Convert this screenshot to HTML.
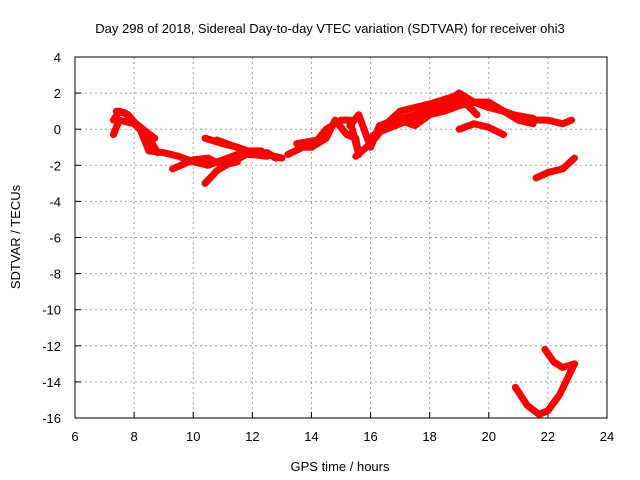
<!DOCTYPE html>
<html><head><meta charset="utf-8"><style>
body{margin:0;background:#fff}
svg{display:block;font-family:"Liberation Sans",sans-serif}
</style></head><body>
<svg id="chart" width="640" height="480">
<text x="330" y="33" text-anchor="middle" font-size="13">Day 298 of 2018, Sidereal Day-to-day VTEC variation (SDTVAR) for receiver ohi3</text>
<text x="340" y="471" text-anchor="middle" font-size="13">GPS time / hours</text>
<text transform="translate(20,237) rotate(-90)" text-anchor="middle" font-size="13">SDTVAR / TECUs</text>
<g id="grid"></g><g id="ticks"></g><g id="series"></g>
<rect x="75" y="57" width="532" height="361" fill="none" stroke="#000"/>
</svg>
<script>
const xTicks=[6,8,10,12,14,16,18,20,22,24];
const yTicks=[4,2,0,-2,-4,-6,-8,-10,-12,-14,-16];
const traceA=[[7.3,0.5],[7.5,1.0],[7.8,0.8],[8.2,0],[8.5,-1.2],[9.0,-1.3],[9.5,-1.5],[10,-1.8],[10.5,-2],[11,-1.7],[11.5,-1.4],[12,-1.4],[12.5,-1.5]];
const traceB=[[7.3,-0.3],[7.5,0.5],[8,0.3],[8.5,-0.5],[8.8,-1.3]];
const traceB2=[[7.4,1.0],[7.7,0.9],[8,0.4],[8.3,0],[8.7,-0.5]];
const traceC=[[9.3,-2.2],[10,-1.7],[10.5,-1.6],[11,-2.0],[11.5,-1.8]];
const traceD=[[10.4,-3.0],[10.8,-2.3],[11.2,-1.9],[11.8,-1.4],[12.5,-1.3],[12.8,-1.6]];
const traceE=[[10.4,-0.5],[11,-0.8],[11.5,-1.0],[12,-1.3],[12.5,-1.4],[13,-1.6]];
const traceE2=[[10.8,-0.6],[11.3,-0.9],[11.8,-1.2],[12.3,-1.2]];
const traceF=[[13.2,-1.4],[13.7,-1.0],[14,-1.0],[14.5,-0.5],[14.8,0.5],[15.2,-0.3],[15.5,-0.5],[15.6,-1.4]];
const traceG=[[13.5,-0.8],[14.2,-0.6],[14.5,0],[15,0.5],[15.3,0.5],[15.6,-1.4]];
const traceH=[[15.3,0.2],[15.6,0.8],[16,-1],[16.3,0.2],[17,0.6],[17.5,0.8],[18,1.3],[18.5,1.5],[19,2],[19.5,1.5],[20,1.2],[20.5,1.0],[21,0.7],[21.5,0.5],[22,0.5],[22.5,0.3],[22.8,0.5]];
const traceI=[[15.5,-1.5],[16,-0.8],[16.5,0.2],[17,0.5],[17.5,0.2],[18,0.8],[18.5,1.0],[19,1.3],[19.5,1.5],[20,1.5],[20.5,1.0],[21,0.5],[21.5,0.3]];
const traceJ=[[16,-0.5],[17,1.0],[18,1.4],[19,1.9],[19.3,1.3],[19.6,0.8]];
const traceJ2=[[16.2,-0.2],[17,0.3],[17.8,0.9],[18.6,1.4],[19.2,1.6],[20,1.3],[20.8,0.8],[21.5,0.6]];
const traceK=[[19,0],[19.5,0.3],[20,0.1],[20.5,-0.3]];
const traceL=[[21.6,-2.7],[22,-2.4],[22.5,-2.2],[22.9,-1.6]];
const traceM=[[20.9,-14.3],[21.3,-15.3],[21.7,-15.8],[22.0,-15.6],[22.4,-14.7],[22.9,-13.0]];
const traceN=[[21.9,-12.2],[22.2,-12.9],[22.5,-13.2],[22.9,-13.0]];
const traces=[traceA,traceB,traceB2,traceC,traceD,traceE,traceE2,traceF,traceG,traceH,traceI,traceJ,traceJ2,traceK,traceL,traceM,traceN];
const NS="http://www.w3.org/2000/svg";
const X=v=>75+(v-6)/18*532, Y=v=>57+(4-v)/20*361;
const grid=document.getElementById('grid'),ticks=document.getElementById('ticks'),ser=document.getElementById('series');
function mk(tag,attrs,parent){const e=document.createElementNS(NS,tag);for(const k in attrs)e.setAttribute(k,attrs[k]);parent.appendChild(e);return e;}
xTicks.forEach(t=>{
 if(t>6&&t<24){const l=mk('line',{x1:X(t),x2:X(t),y1:57,y2:418,stroke:'#a0a0a0','stroke-dasharray':'2,3'},grid);
 
 }
 const tk=mk('line',{x1:X(t),x2:X(t),y1:418,y2:412,stroke:'#000'},ticks);
 
 
 const tx=mk('text',{x:X(t),y:441,'text-anchor':'middle','font-size':'13'},ticks);tx.textContent=t;
 
 
});
yTicks.forEach(t=>{
 if(t<4&&t>-16){const l=mk('line',{x1:75,x2:607,y1:Y(t),y2:Y(t),stroke:'#a0a0a0','stroke-dasharray':'2,3'},grid);
 
 }
 const tk=mk('line',{x1:75,x2:81,y1:Y(t),y2:Y(t),stroke:'#000'},ticks);
 
 
 const tx=mk('text',{x:61,y:Y(t)+5,'text-anchor':'end','font-size':'13'},ticks);tx.textContent=t;
 
 
});
traces.forEach(tr=>{
 const p=mk('polyline',{points:tr.map(d=>X(d[0])+','+Y(d[1])).join(' '),fill:'none',stroke:'#ff0000','stroke-width':'7','stroke-linejoin':'round','stroke-linecap':'round'},ser);
 
 
});
</script>
</body></html>
